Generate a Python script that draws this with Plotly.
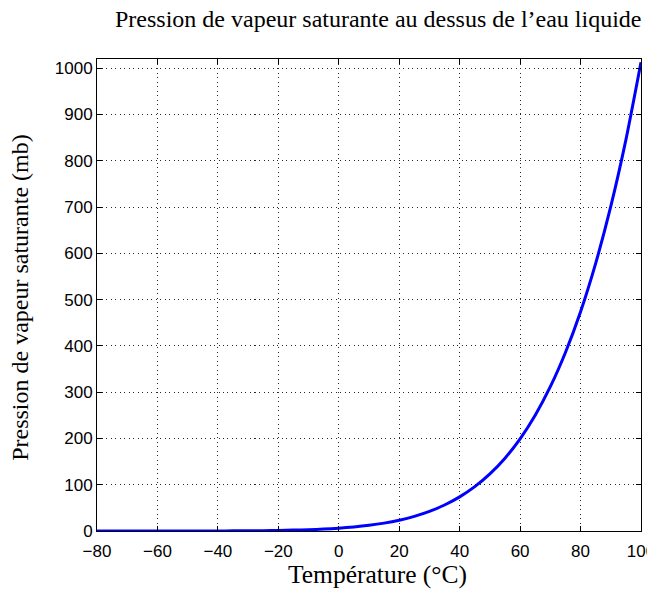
import plotly.graph_objects as go

# Temperature (°C) and saturation vapour pressure over liquid water (mb)
temperature = [-80, -75, -70, -65, -60, -55, -50, -45, -40, -35, -30, -25, -20, -15, -10, -5,
               0, 5, 10, 15, 20, 25, 30, 35, 40, 45, 50, 55, 60, 65, 70, 75, 80, 85, 90, 95, 100]
pressure = [0.001, 0.002, 0.004, 0.008, 0.019, 0.035, 0.064, 0.11, 0.19, 0.31, 0.51, 0.81, 1.25,
            1.91, 2.86, 4.22, 6.11, 8.72, 12.27, 17.04, 23.37, 31.67, 42.43, 56.23, 73.77, 95.85,
            123.4, 157.4, 199.3, 250.2, 311.8, 385.8, 473.9, 578.4, 701.4, 845.3, 1013.0]

x_ticks = [-80, -60, -40, -20, 0, 20, 40, 60, 80, 100]
y_ticks = [0, 100, 200, 300, 400, 500, 600, 700, 800, 900, 1000]

title_text = "Pression de vapeur saturante au dessus de l’eau liquide"
x_title = "Température (°C)"
y_title = "Pression de vapeur saturante (mb)"

serif = "Liberation Serif"
sans = "Liberation Sans"

fig = go.Figure()
fig.add_trace(go.Scatter(
    x=temperature, y=pressure, mode="lines",
    line=dict(color="rgb(0,0,255)", width=3, shape="spline", smoothing=0.6),
    showlegend=False, hoverinfo="x+y",
))

axis_common = dict(
    showline=True, linecolor="black", linewidth=1, mirror="ticks",
    ticks="inside", ticklen=5, tickcolor="black", tickwidth=1,
    showgrid=True, gridcolor="rgb(40,40,40)", griddash="1px,3.5px", gridwidth=1,
    zeroline=False, tickfont=dict(family=sans, size=17, color="black"),
    ticklabeloverflow="allow", automargin=False,
)

fig.update_xaxes(range=[-80, 100], tickvals=x_ticks, ticklabelstandoff=5, **axis_common)
fig.update_yaxes(range=[0, 1020], tickvals=y_ticks, **axis_common)

fig.update_layout(
    width=647, height=590,
    margin=dict(l=89, r=14, t=51, b=67, autoexpand=False),
    paper_bgcolor="white", plot_bgcolor="white",
    annotations=[
        dict(text=title_text, xref="paper", yref="paper", x=0.517, y=1.0, yshift=40,
             xanchor="center", yanchor="middle", showarrow=False,
             font=dict(family=serif, size=24, color="black")),
        dict(text=x_title, xref="paper", yref="paper", x=0.515, y=0, yshift=-43,
             xanchor="center", yanchor="middle", showarrow=False,
             font=dict(family=serif, size=25.5, color="black")),
        dict(text=y_title, xref="paper", yref="paper", x=0, xshift=-77, y=0.494,
             xanchor="center", yanchor="middle", showarrow=False, textangle=-90,
             font=dict(family=serif, size=24, color="black")),
    ],
)

fig.write_html("out.html")
